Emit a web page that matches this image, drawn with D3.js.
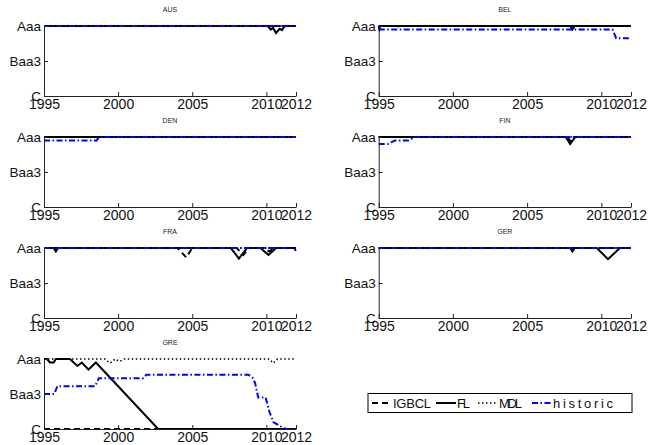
<!DOCTYPE html>
<html>
<head>
<meta charset="utf-8">
<script src="https://d3js.org/d3.v7.min.js"></script>
<style>
  body { margin: 0; background: #fff; font-family: "Liberation Sans", Arial, sans-serif; }
  svg { display: block; }
</style>
</head>
<body>
<div id="chart"></div>
<script>
var countries = ["AUS", "BEL", "DEN", "FIN", "FRA", "GER", "GRE"];
var ratingTicks = [0, 10, 20];
var ratingLabels = ["Aaa", "Baa3", "C"];
var yearTicks = [1995, 2000, 2005, 2010, 2012];
var models = ["IGBCL", "FL", "MDL", "historic"];

// notches below Aaa as [year, notch] points, one list per country (same order as countries)
var igbcl = [
  [[1995, 0], [2012, 0]],
  [[1995, 0], [1995.05, 1], [1995.15, 0], [1996.3, 0], [1996.4, 0.7], [1996.5, 0], [2012, 0]],
  [[1995, 0], [2012, 0]],
  [[1995, 0], [2007.7, 0], [2007.95, 1.3], [2008.2, 0], [2012, 0]],
  [[1995, 0], [2004.0, 0], [2004.6, 2.7], [2005.0, 0], [2008.0, 0], [2008.45, 2], [2008.8, 0], [2009.8, 0], [2010.2, 1], [2010.5, 0], [2012, 0]],
  [[1995, 0], [2012, 0]],
  [[1995, 20], [2012, 20]]
];
var fl = [
  [[1995, 0], [2010.1, 0], [2010.3, 1], [2010.45, 0.5], [2010.65, 2], [2010.9, 0.8], [2011.05, 1.2], [2011.25, 0], [2012, 0]],
  [[1995, 0], [2007.9, 0], [2008.05, 1], [2008.2, 0], [2012, 0]],
  [[1995, 0], [2012, 0]],
  [[1995, 0], [2007.6, 0], [2007.9, 2], [2008.25, 0], [2012, 0]],
  [[1995, 0], [1995.65, 0], [1995.8, 1], [1995.95, 0], [2007.6, 0], [2008.15, 3], [2008.7, 0], [2009.6, 0], [2010.15, 2], [2010.65, 0], [2012, 0]],
  [[1995, 0], [2007.9, 0], [2008.05, 1], [2008.2, 0], [2009.7, 0], [2010.45, 3.2], [2011.25, 0], [2012, 0]],
  [[1995, 0], [1995.2, 0], [1995.4, 1], [1995.65, 1], [1995.8, 0], [1996.75, 0], [1997.25, 2], [1997.55, 1], [1998.0, 3], [1998.5, 1], [2002.7, 20], [2012, 20]]
];
var mdl = [
  [[1995, 0], [2012, 0]],
  [[1995, 0], [2012, 0]],
  [[1995, 0], [2012, 0]],
  [[1995, 0], [2012, 0]],
  [[1995, 0], [2012, 0]],
  [[1995, 0], [2012, 0]],
  [[1995, 0], [1999.1, 0], [1999.45, 1.2], [1999.8, 0], [2000.1, 0.7], [2000.4, 0], [2010.2, 0], [2010.47, 1.2], [2010.75, 0], [2012, 0]]
];
var historic = [
  [[1995, 0], [2012, 0]],
  [[1995, 1], [2010.75, 1], [2011.0, 3.5], [2012, 3.5]],
  [[1995, 1], [1998.55, 1], [1998.7, 0], [2012, 0]],
  [[1995, 2], [1995.6, 2], [1996.1, 1], [1997.0, 1], [1997.45, 0], [2012, 0]],
  [[1995, 0], [2011.85, 0], [2012, 0.8]],
  [[1995, 0], [2012, 0]],
  [[1995, 10], [1995.7, 10], [1995.9, 7.75], [1998.45, 7.75], [1998.7, 5.5], [2001.7, 5.5], [2001.9, 4.5], [2008.8, 4.5], [2009.1, 5.5], [2009.25, 7], [2009.45, 11], [2009.95, 11], [2010.2, 15], [2010.47, 18], [2011.15, 19.7], [2011.35, 20], [2012, 20]]
];

var series = [igbcl, fl, mdl, historic];
var styles = [
  { color: "#000", width: 2, dash: "6,4" },
  { color: "#000", width: 2, dash: null },
  { color: "#000", width: 1.5, dash: "1.5,2.5" },
  { color: "#0000ff", width: 2, dash: "6,2.5,1.5,2.5" }
];

var width = 649, height = 445;
var colLeft = [44, 378.7], colRight = [296, 631];
var rowTop = 26, rowStep = 111, panelH = 70;

var svg = d3.select("#chart").append("svg")
  .attr("width", width)
  .attr("height", height);

countries.forEach(function(c, i) {
  var col = i % 2, row = Math.floor(i / 2);
  var top = rowTop + row * rowStep;
  var x = d3.scaleLinear().domain([1995, 2012]).range([colLeft[col], colRight[col]]);
  var y = d3.scaleLinear().domain([0, 20]).range([top, top + panelH]);
  var g = svg.append("g");

  // title
  g.append("text")
    .text(c)
    .attr("x", (colLeft[col] + colRight[col]) / 2)
    .attr("y", top - 14.5)
    .attr("text-anchor", "middle")
    .attr("font-size", 7)
    .attr("fill", "#222");

  // data lines
  var line = d3.line().x(function(d) { return x(d[0]); }).y(function(d) { return y(d[1]); });
  series.forEach(function(s, k) {
    g.append("path")
      .attr("d", line(s[i]))
      .attr("fill", "none")
      .attr("stroke", styles[k].color)
      .attr("stroke-width", styles[k].width)
      .attr("stroke-dasharray", styles[k].dash);
  });

  // y axis (ticks inside)
  var yAxis = d3.axisLeft(y).tickValues(ratingTicks)
    .tickFormat(function(d, j) { return ratingLabels[j]; })
    .tickSizeInner(-4).tickSizeOuter(0).tickPadding(3);
  var ya = g.append("g").attr("transform", "translate(" + colLeft[col] + ",0)").call(yAxis);

  // x axis (ticks inside)
  var xAxis = d3.axisBottom(x).tickValues(yearTicks).tickFormat(d3.format("d"))
    .tickSizeInner(-4).tickSizeOuter(0).tickPadding(3);
  var xa = g.append("g").attr("transform", "translate(0," + (top + panelH) + ")").call(xAxis);

  [ya, xa].forEach(function(a) {
    a.select(".domain").attr("stroke", "#222").attr("stroke-width", 1);
    a.selectAll(".tick line").attr("stroke", "#222");
    a.selectAll("text").attr("fill", "#111")
      .attr("font-family", "Liberation Sans, Arial, sans-serif");
  });
  ya.selectAll("text").attr("font-size", 13.5);
  xa.selectAll("text").attr("font-size", 14).attr("dy", "0.7em");
});

// legend
var lg = svg.append("g").attr("transform", "translate(368,393.5)");
lg.append("rect")
  .attr("width", 264).attr("height", 19)
  .attr("fill", "#fff").attr("stroke", "#000").attr("stroke-width", 1);
var entryX = [4, 68, 110, 164];
var textLen = [38, 13, 23, 60];
models.forEach(function(m, k) {
  lg.append("line")
    .attr("x1", entryX[k]).attr("x2", entryX[k] + 20)
    .attr("y1", 9.5).attr("y2", 9.5)
    .attr("stroke", styles[k].color)
    .attr("stroke-width", styles[k].width)
    .attr("stroke-dasharray", styles[k].dash);
  lg.append("text")
    .text(m)
    .attr("x", entryX[k] + 21)
    .attr("y", 14)
    .attr("font-size", 13)
    .attr("textLength", textLen[k])
    .attr("lengthAdjust", "spacing")
    .attr("fill", "#111");
});
</script>
</body>
</html>
